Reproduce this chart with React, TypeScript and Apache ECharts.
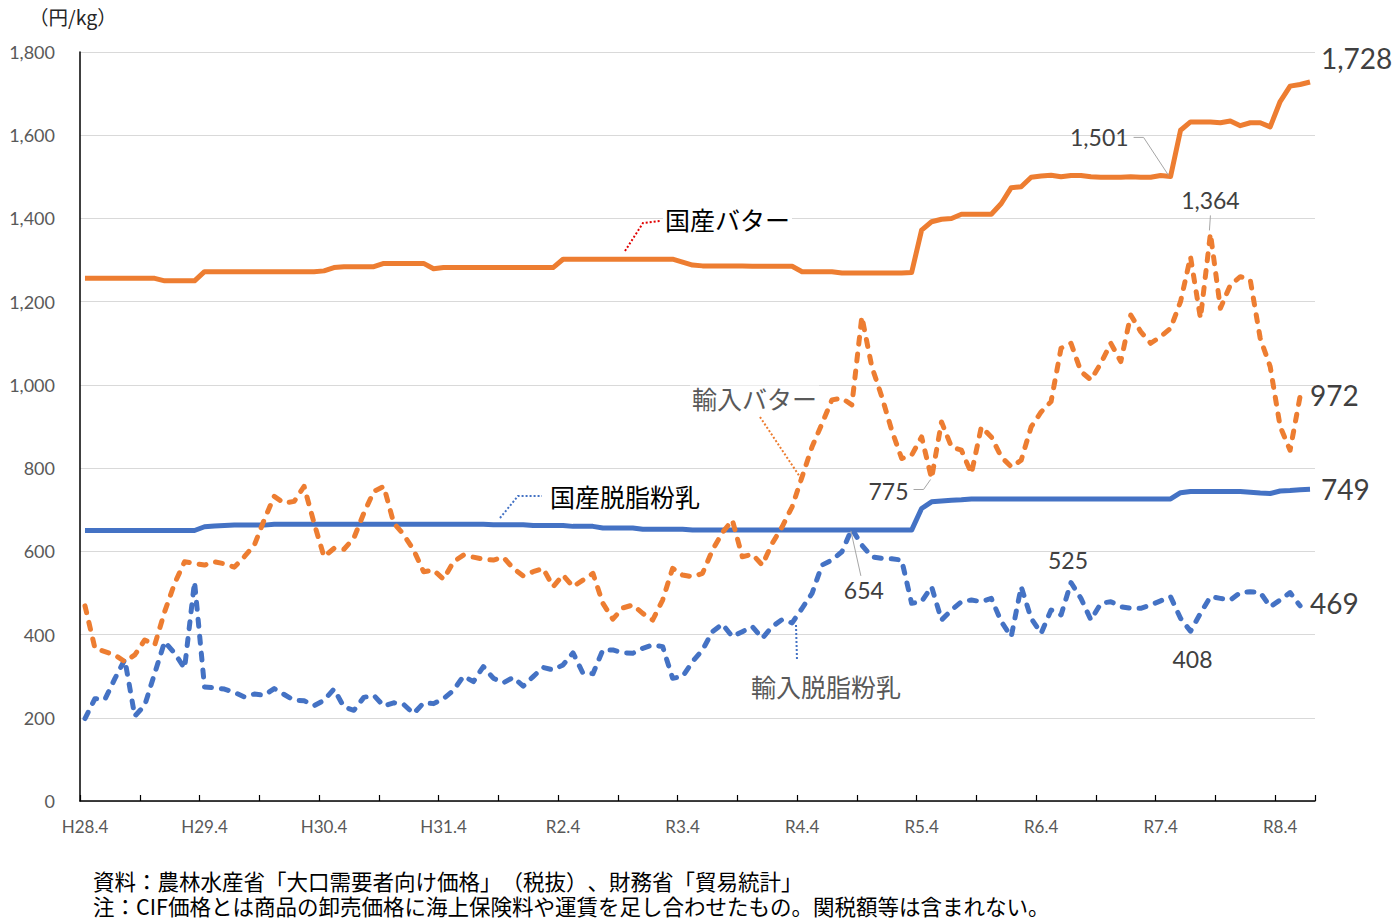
import React, { useEffect, useRef } from "react";
import * as echarts from "echarts";

// Months H28.4 (Apr 2016) .. R8.7 : 124 categories
const categories: string[] = (() => {
  const out: string[] = [];
  for (let k = 0; k < 124; k++) {
    const year = 2016 + Math.floor((k + 3) / 12);
    const month = ((k + 3) % 12) + 1;
    const heisei = year < 2019 || (year === 2019 && month <= 4);
    out.push((heisei ? "H" + (year - 1988) : "R" + (year - 2018)) + "." + month);
  }
  return out;
})();

const seriesNames = ["国産バター", "輸入バター", "国産脱脂粉乳", "輸入脱脂粉乳"];

const domesticButter: number[] = [
  1256, 1256, 1256, 1256, 1256, 1256, 1256, 1256, 1250, 1250, 1250, 1250,
  1272, 1272, 1272, 1272, 1272, 1272, 1272, 1272, 1272, 1272, 1272, 1272,
  1274, 1282, 1284, 1284, 1284, 1284, 1292, 1292, 1292, 1292, 1292, 1279,
  1282, 1282, 1282, 1282, 1282, 1282, 1282, 1282, 1282, 1282, 1282, 1282,
  1302, 1302, 1302, 1302, 1302, 1302, 1302, 1302, 1302, 1302, 1302, 1302,
  1295, 1288, 1286, 1286, 1286, 1286, 1286, 1285, 1285, 1285, 1285, 1285,
  1272, 1272, 1272, 1272, 1269, 1269, 1269, 1269, 1269, 1269, 1269, 1270,
  1372, 1392, 1398, 1400, 1410, 1410, 1410, 1410, 1436, 1474, 1476, 1499,
  1502, 1504, 1500, 1503, 1503, 1500, 1499, 1499, 1499, 1500, 1499, 1499,
  1503, 1501, 1612, 1632, 1632, 1632, 1630, 1634, 1623, 1630, 1630, 1620,
  1681, 1718, 1722, 1728,
];

const importedButter: number[] = [
  469, 367, 359, 351, 335, 351, 387, 375, 455, 523, 575, 571,
  567, 575, 570, 562, 587, 615, 676, 732, 716, 720, 756, 668,
  587, 607, 605, 632, 692, 744, 756, 668, 640, 603, 551, 555,
  533, 575, 591, 586, 581, 579, 586, 559, 541, 551, 559, 515,
  543, 515, 531, 547, 475, 437, 464, 471, 451, 435, 483, 559,
  543, 539, 547, 603, 645, 675, 587, 593, 567, 619, 659, 707,
  779, 851, 907, 964, 968, 952, 1164, 1044, 972, 891, 823, 831,
  875, 775, 911, 851, 843, 787, 899, 875, 827, 803, 819, 899,
  935, 960, 1088, 1100, 1032, 1012, 1052, 1100, 1056, 1168, 1128, 1100,
  1116, 1136, 1200, 1308, 1160, 1364, 1184, 1240, 1260, 1252, 1112, 1044,
  900, 843, 972,
];

const domesticSkim: number[] = [
  650, 650, 650, 650, 650, 650, 650, 650, 650, 650, 650, 650,
  659, 661, 662, 663, 663, 663, 663, 665, 665, 665, 665, 665,
  665, 665, 665, 665, 665, 665, 665, 665, 665, 665, 665, 665,
  665, 665, 665, 665, 665, 664, 664, 664, 664, 662, 662, 662,
  662, 660, 660, 660, 656, 656, 656, 656, 653, 653, 653, 653,
  653, 651, 651, 651, 651, 651, 651, 651, 651, 651, 651, 651,
  651, 651, 651, 651, 651, 651, 651, 651, 651, 651, 651, 651,
  703, 719, 721, 723, 724, 726, 726, 726, 726, 726, 726, 726,
  726, 726, 726, 726, 726, 726, 726, 726, 726, 726, 726, 726,
  726, 726, 741, 744, 744, 744, 744, 744, 744, 742, 740, 739,
  745, 746, 748, 749,
];

const importedSkim: number[] = [
  198, 246, 244, 294, 340, 204, 230, 307, 383, 355, 319, 527,
  274, 272, 269, 261, 250, 257, 254, 270, 256, 242, 241, 229,
  242, 269, 226, 218, 249, 254, 228, 236, 232, 210, 236, 234,
  246, 266, 300, 287, 323, 295, 284, 297, 276, 299, 321, 315,
  327, 356, 307, 306, 363, 363, 356, 355, 367, 375, 371, 295,
  299, 335, 363, 407, 425, 395, 407, 419, 391, 419, 436, 428,
  463, 499, 567, 579, 599, 654, 615, 587, 583, 582, 579, 475,
  479, 515, 435, 459, 479, 483, 479, 487, 431, 395, 515, 439,
  403, 459, 447, 525, 487, 435, 475, 479, 467, 463, 463, 471,
  481, 491, 439, 408, 451, 491, 487, 483, 501, 503, 501, 467,
  483, 501, 469,
];

const footnoteLines = [
  "資料：農林水産省「大口需要者向け価格」（税抜）、財務省「貿易統計」",
  "注：CIF価格とは商品の卸売価格に海上保険料や運賃を足し合わせたもの。関税額等は含まれない。",
];

const yMin = 0;
const yMax = 1800;
const yStep = 200;

const ORANGE = "#ED7D31";
const BLUE = "#4472C4";
const NUM_FONT = "Lato, 'Noto Sans', sans-serif";
const JP_FONT = "'Noto Sans CJK JP', 'Noto Sans', sans-serif";

type ValueLabel = {
  data: number[];
  i: number;
  dx: number;
  dy: number;
  size: number;
  align: "left" | "center" | "right";
  leader?: number[][];
};

const valueLabels: ValueLabel[] = [
  { data: domesticButter, i: 123, dx: 11, dy: -24, size: 28, align: "left" },
  { data: domesticButter, i: 109, dx: -42, dy: -39, size: 23, align: "right", leader: [[-37, -39], [-27, -39], [-2, -1]] },
  { data: importedButter, i: 113, dx: 0, dy: -33, size: 23, align: "center", leader: [[0, -18], [-1, -3]] },
  { data: importedButter, i: 122, dx: 10, dy: -2, size: 28, align: "left" },
  { data: domesticSkim, i: 123, dx: 11, dy: 0, size: 28, align: "left" },
  { data: importedSkim, i: 122, dx: 10, dy: -3, size: 28, align: "left" },
  { data: importedButter, i: 85, dx: -23, dy: 12, size: 23, align: "right", leader: [[-18, 11], [-8, 11], [-1, 1]] },
  { data: importedSkim, i: 77, dx: 12, dy: 61, size: 23, align: "center", leader: [[9, 47], [-1, 2]] },
  { data: importedSkim, i: 99, dx: -3, dy: -23, size: 23, align: "center" },
  { data: importedSkim, i: 111, dx: 2, dy: 28, size: 23, align: "center" },
];

const fmt = (v: number) => v.toLocaleString("en-US");

export default function App() {
  const ref = useRef<HTMLDivElement>(null);

  useEffect(() => {
    if (!ref.current) return;
    const chart = echarts.init(ref.current, undefined, { renderer: "svg" });

    const lineSeries = (name: string, data: number[], color: string, dashed: boolean, z: number) => ({
      name,
      type: "line",
      data,
      symbol: "none",
      z,
      lineStyle: {
        color,
        width: 5,
        type: dashed ? [7, 10] : "solid",
        cap: dashed ? "round" : "butt",
        join: "round",
      },
      emphasis: { disabled: true },
    });

    chart.setOption({
      animation: false,
      backgroundColor: "#ffffff",
      grid: { left: 80, right: 85, top: 52, bottom: 119 },
      xAxis: {
        type: "category",
        data: categories,
        boundaryGap: true,
        axisLine: { show: true, lineStyle: { color: "#000000", width: 1.5 } },
        axisTick: { show: true, interval: 5, inside: true, length: 6, lineStyle: { color: "#000000", width: 1.2 } },
        axisLabel: { interval: 11, color: "#595959", fontSize: 17, fontFamily: NUM_FONT, margin: 17 },
        splitLine: { show: false },
      },
      yAxis: {
        type: "value",
        min: yMin,
        max: yMax,
        interval: yStep,
        axisLine: { show: true, lineStyle: { color: "#000000", width: 1.5 } },
        axisTick: { show: false },
        axisLabel: { color: "#595959", fontSize: 18, fontFamily: NUM_FONT, margin: 25, formatter: (v: number) => fmt(v) },
        splitLine: { show: true, lineStyle: { color: "#D9D9D9", width: 1 } },
      },
      series: [
        lineSeries(seriesNames[2], domesticSkim, BLUE, false, 2),
        lineSeries(seriesNames[3], importedSkim, BLUE, true, 3),
        lineSeries(seriesNames[0], domesticButter, ORANGE, false, 4),
        lineSeries(seriesNames[1], importedButter, ORANGE, true, 5),
      ],
    });

    const toPx = (i: number, v: number) =>
      chart.convertToPixel({ xAxisIndex: 0, yAxisIndex: 0 }, [categories[i], v]) as number[];

    const elements: any[] = [];

    valueLabels.forEach((l) => {
      const p = toPx(l.i, l.data[l.i]);
      if (l.leader) {
        elements.push({
          type: "polyline",
          shape: { points: l.leader.map((d) => [p[0] + d[0], p[1] + d[1]]) },
          style: { stroke: "#A6A6A6", lineWidth: 1, fill: null },
          z: 50,
        });
      }
      elements.push({
        type: "text",
        x: p[0] + l.dx,
        y: p[1] + l.dy,
        z: 60,
        style: {
          text: fmt(l.data[l.i]),
          font: `${l.size}px ${NUM_FONT}`,
          fill: "#404040",
          textAlign: l.align,
          textVerticalAlign: "middle",
        },
      });
    });

    // series name call-outs
    const nameLabels = [
      { text: seriesNames[0], x: 663, y: 219, fill: "#000000", line: [[625, 251], [643, 223], [660, 221]], lc: "#E00000" },
      { text: seriesNames[1], x: 690, y: 398, fill: "#595959", line: [[760, 417], [802, 480]], lc: ORANGE },
      { text: seriesNames[2], x: 548, y: 496, fill: "#000000", line: [[500, 518], [518, 496], [542, 496]], lc: BLUE },
      { text: seriesNames[3], x: 749, y: 686, fill: "#595959", line: [[796, 625], [797, 660]], lc: BLUE },
    ];
    nameLabels.forEach((n) => {
      elements.push({
        type: "polyline",
        shape: { points: n.line },
        style: { stroke: n.lc, lineWidth: 2, lineDash: [2, 2], fill: null },
        z: 50,
      });
      elements.push({
        type: "text",
        x: n.x,
        y: n.y,
        z: 60,
        style: {
          text: n.text,
          font: `25px ${JP_FONT}`,
          fill: n.fill,
          textAlign: "left",
          textVerticalAlign: "middle",
          backgroundColor: "#ffffff",
          padding: [0, 2, 0, 2],
        },
      });
    });

    elements.push({
      type: "text",
      x: 29,
      y: 16,
      style: { text: "（円/kg）", font: `19.5px ${JP_FONT}`, fill: "#262626", textAlign: "left", textVerticalAlign: "middle" },
    });
    elements.push({
      type: "text",
      x: 93,
      y: 892.5,
      style: {
        text: footnoteLines.join("\n"),
        font: `21.5px ${JP_FONT}`,
        lineHeight: 25,
        fill: "#000000",
        textAlign: "left",
        textVerticalAlign: "middle",
      },
    });

    chart.setOption({ graphic: { elements } });

    return () => chart.dispose();
  }, []);

  return (
    <div
      ref={ref}
      style={{ position: "absolute", left: 0, top: 0, width: 1400, height: 920, textSpacingTrim: "space-all" } as any}
    />
  );
}
